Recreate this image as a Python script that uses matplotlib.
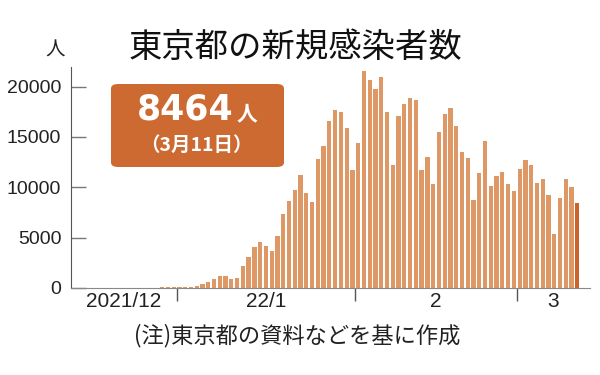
import matplotlib.pyplot as plt
from matplotlib.patches import FancyBboxPatch

plt.rcParams['font.family'] = ['Liberation Sans', 'Noto Sans CJK JP', 'DejaVu Sans']

# daily new cases, Tokyo (2021/12/14 - 2022/3/11)
dec_vals = [21, 22, 20, 22, 24, 20, 9, 24, 30, 37, 32, 37, 38, 20, 46, 76, 64, 78]
jan_vals = [79, 84, 103, 151, 390, 641, 922, 1224, 1223, 871, 962, 2198, 3124, 4051,
            4561, 4172, 3709, 5185, 7377, 8638, 9699, 11227, 9468, 8503, 12813, 14086,
            16538, 17631, 17433, 15895, 11751]
feb_vals = [14445, 21576, 20679, 19798, 20940, 17526, 12214, 17113, 18287, 18891, 18660,
            11750, 13010, 10300, 15525, 17310, 17840, 16090, 13470, 12910, 8770, 11390,
            14570, 10130, 11090, 11520, 10300, 9600]
mar_vals = [11820, 12680, 12215, 10460, 10790, 9235, 5395, 8905, 10820, 10060, 8464]

month_labels = ['2021/12', '22/1', '2', '3']
y_ticks = [0, 5000, 10000, 15000, 20000]

values = dec_vals + jan_vals + feb_vals + mar_vals
# day index: 2022/1/1 = 0
days = list(range(-len(dec_vals), len(values) - len(dec_vals)))

fig = plt.figure(figsize=(6, 3.75), dpi=100)
ax = fig.add_axes([71 / 600, 87 / 375, 519 / 600, 221.5 / 375])

colors = ['#DE9866'] * (len(values) - 1) + ['#C9652B']
ax.bar(days, values, width=0.74, color=colors, linewidth=0)

ax.set_xlim(-18.8, 71.2)
ax.set_ylim(0, 22000)

for s in ['top', 'right']:
    ax.spines[s].set_visible(False)
ax.spines['left'].set_color('#555555')
ax.spines['bottom'].set_color('#888888')

ax.set_yticks(y_ticks)
ax.set_yticklabels([str(v) for v in y_ticks])
ax.tick_params(axis='y', direction='in', length=11, width=1, color='#777777',
               labelsize=14, pad=7, labelcolor='#222222')

# month boundaries as major ticks, labels at month centers
ax.set_xticks([-0.5, 30.5, 58.5])
ax.set_xticklabels([])
ax.tick_params(axis='x', which='major', direction='out', length=9, width=1, color='#555555')
ax.set_xticks([-9.65, 15, 44.5, 64.8], minor=True)
ax.set_xticklabels(month_labels, minor=True)
ax.tick_params(axis='x', which='minor', length=0, labelsize=15, pad=3, labelcolor='#222222')

# title and notes
fig.text(295 / 600, 1 - 48 / 375, '東京都の新規感染者数', ha='center', va='center',
         fontsize=24, family=['Noto Sans CJK JP'], color='#111111')
fig.text(55 / 600, 1 - 50 / 375, '人', ha='center', va='center',
         fontsize=14, family=['Noto Sans CJK JP'], color='#222222')
fig.text(297 / 600, 1 - 336 / 375, '(注)東京都の資料などを基に作成', ha='center', va='center',
         fontsize=16, family=['Noto Sans CJK JP'], color='#222222')

# highlight box
box = FancyBboxPatch((111 / 600, 1 - 167 / 375), 173 / 600, 83 / 375,
                     boxstyle='round,pad=0,rounding_size=0.012',
                     transform=fig.transFigure, facecolor='#CD6A32', edgecolor='none')
fig.add_artist(box)
fig.text(185 / 600, 1 - 109 / 375, '8464', ha='center', va='center', fontsize=25,
         fontweight='bold', family=['DejaVu Sans'], color='white')
fig.text(247 / 600, 1 - 114 / 375, '人', ha='center', va='center', fontsize=15,
         fontweight='bold', family=['Noto Sans CJK JP'], color='white')
fig.text(196 / 600, 1 - 145 / 375, '（3月11日）', ha='center', va='center', fontsize=14,
         fontweight='bold', family=['Noto Sans CJK JP'], color='white')

fig.savefig('out.png', dpi=100)
